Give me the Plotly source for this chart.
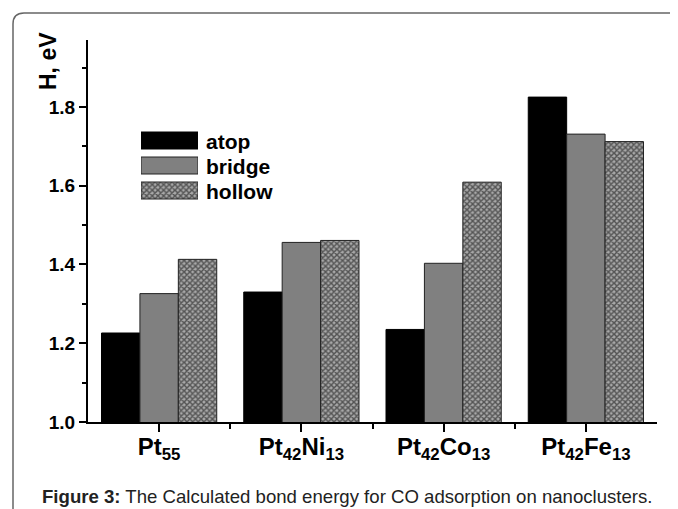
import plotly.graph_objects as go

categories = ["Pt<sub>55</sub>", "Pt<sub>42</sub>Ni<sub>13</sub>", "Pt<sub>42</sub>Co<sub>13</sub>", "Pt<sub>42</sub>Fe<sub>13</sub>"]
atop = [1.226, 1.330, 1.235, 1.825]
bridge = [1.326, 1.456, 1.403, 1.731]
hollow = [1.413, 1.461, 1.609, 1.712]
series_names = ["atop", "bridge", "hollow"]
y_ticks = [1.0, 1.2, 1.4, 1.6, 1.8]

OFF = 8  # page body margin
W, H = 678 - OFF, 509 - OFF
L, R, T, B = 88, 657, 40, 422  # plot area in window pixels
pw, ph = R - L, B - T

def px(x):
    return (x - L) / pw

def py(y):
    return (B - y) / ph

FONT = "Liberation Sans, Arial, sans-serif"
xs = list(range(len(categories)))

styles = [
    dict(color="#000000", line=dict(color="#000000", width=1)),
    dict(color="#808080", line=dict(color="#222222", width=1)),
    dict(color="#a0a0a0", line=dict(color="#222222", width=1),
         pattern=dict(shape="x", size=4, solidity=0.6, fgcolor="#000000", bgcolor="#a8a8a8", fillmode="overlay")),
]

fig = go.Figure()
for name, vals, st in zip(series_names, [atop, bridge, hollow], styles):
    fig.add_trace(go.Bar(x=xs, y=vals, name=name, marker=st, showlegend=False,
                         xaxis="x", yaxis="y"))

# custom legend swatches drawn on a small overlay axis
for i, (name, st) in enumerate(zip(series_names, styles)):
    fig.add_trace(go.Bar(x=[1], y=[i], orientation="h", marker=st, showlegend=False,
                         xaxis="x2", yaxis="y2", width=0.68, hoverinfo="skip"))
    fig.add_annotation(x=px(204), y=py(141 + 25 * i), xref="paper", yref="paper",
                       text="<b>%s</b>" % name, showarrow=False, xanchor="left", yanchor="middle",
                       font=dict(family=FONT, size=21, color="#000"))

fig.update_layout(
    width=W, height=H,
    margin=dict(l=L - OFF, r=W - (R - OFF), t=T - OFF, b=H - (B - OFF), pad=0),
    paper_bgcolor="white", plot_bgcolor="white",
    barmode="group", bargap=0.19, bargroupgap=0,
    showlegend=False,
    font=dict(family=FONT, color="#000"),
    xaxis=dict(range=[-0.5, 3.5], tickvals=xs, ticktext=categories,
               showgrid=False, zeroline=False, showline=True, linecolor="#000", linewidth=2,
               ticks="outside", ticklen=8, tickwidth=2, tickcolor="#000", ticklabelstandoff=-6,
               tickfont=dict(family=FONT, size=24, weight="bold"),
               minor=dict(tickvals=[0.5, 1.5, 2.5], ticks="outside", ticklen=5, tickwidth=2, tickcolor="#000")),
    yaxis=dict(range=[1.0, 1.97], tickvals=y_ticks, ticktext=["%.1f" % v for v in y_ticks],
               showgrid=False, zeroline=False, showline=True, linecolor="#000", linewidth=2,
               ticks="outside", ticklen=7, tickwidth=2, tickcolor="#000",
               tickfont=dict(family=FONT, size=19, weight="bold"),
               minor=dict(dtick=0.1, tick0=1.0, ticks="outside", ticklen=4, tickwidth=2, tickcolor="#000")),
    xaxis2=dict(domain=[px(141), px(198)], range=[0, 1], anchor="y2", visible=False, fixedrange=True),
    yaxis2=dict(domain=[py(203), py(128)], range=[2.5, -0.5], anchor="x2", visible=False, fixedrange=True),
)

# y-axis title
fig.add_annotation(x=px(48), y=py(61), xref="paper", yref="paper", text="<b>H, eV</b>",
                   textangle=-90, showarrow=False, xanchor="center", yanchor="middle",
                   font=dict(family=FONT, size=23, color="#000"))

# caption
fig.add_annotation(x=px(40), y=py(496), xref="paper", yref="paper",
                   text="<b>Figure 3:</b> The Calculated bond energy for CO adsorption on nanoclusters.",
                   showarrow=False, xanchor="left", yanchor="middle",
                   font=dict(family=FONT, size=18.6, color="#222"))

# rounded frame (top-left corner)
x0, y0, r = 13, 13, 11
path = "M %f,%f L %f,%f Q %f,%f %f,%f L %f,%f" % (
    px(x0), py(H + 40), px(x0), py(y0 + r), px(x0), py(y0), px(x0 + r), py(y0), px(W + 40), py(y0))
fig.add_shape(type="path", path=path, xref="paper", yref="paper",
              line=dict(color="#666", width=1.5), layer="above")

fig.write_html("out.html")
